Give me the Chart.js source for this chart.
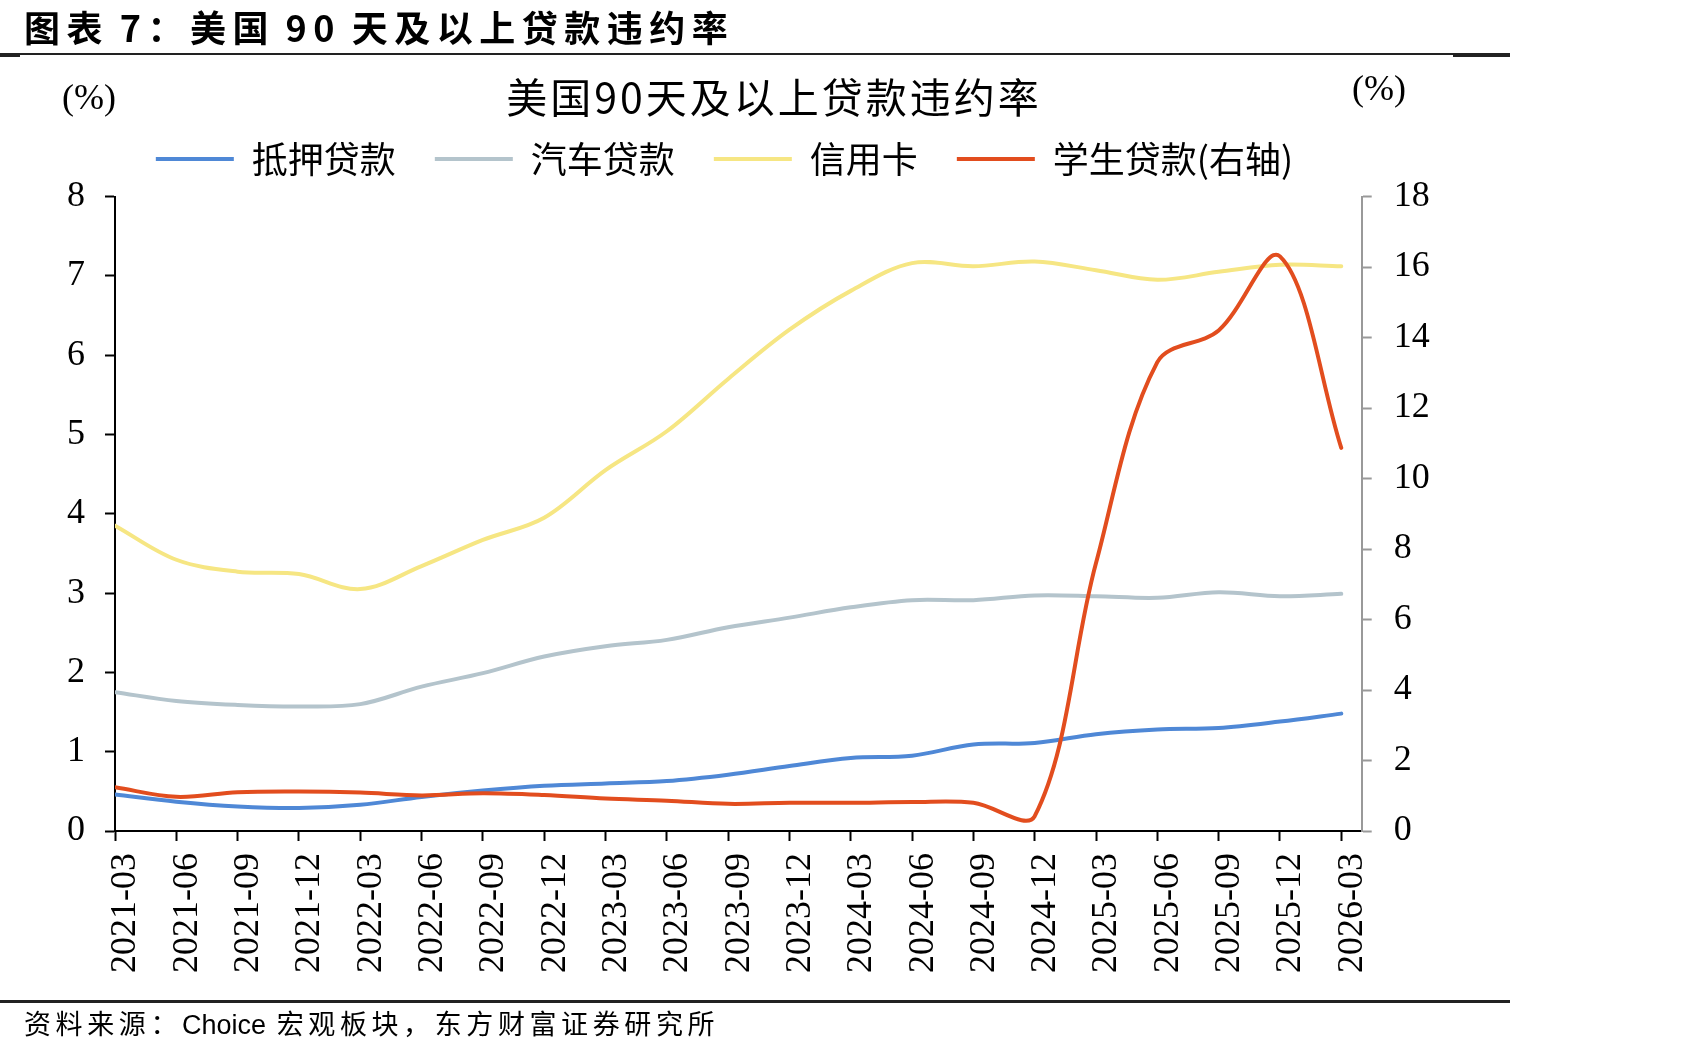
<!DOCTYPE html>
<html>
<head>
<meta charset="utf-8">
<script src="https://cdn.jsdelivr.net/npm/chart.js@4.4.1/dist/chart.umd.min.js"></script>
<style>
html,body{margin:0;padding:0;background:#fff;}
#wrap{position:relative;width:1701px;height:1055px;overflow:hidden;background:#fff;}
#c{position:absolute;left:0;top:0;}
.t{position:absolute;white-space:nowrap;color:#000;}
#hdr{left:24px;top:4px;font-family:"Noto Sans CJK SC";font-weight:bold;font-size:36px;line-height:44px;letter-spacing:6.5px;word-spacing:-4px;}
#ttl{left:774px;top:73px;transform:translateX(-50%);font-family:"Noto Sans CJK SC";font-size:41px;line-height:44px;letter-spacing:3px;}
.pct{font-family:"Liberation Serif";font-size:36px;line-height:40px;}
#pl{left:62px;top:77px;}
#pr{left:1352px;top:68px;}
#src{left:24px;top:1006px;font-family:"Noto Sans CJK SC";font-size:27px;line-height:34px;letter-spacing:4.6px;}
#src span{font-family:"Liberation Sans";letter-spacing:0;}
.ln{position:absolute;background:#222;}
</style>
</head>
<body>
<div id="wrap">
<canvas id="c" width="1701" height="1055"></canvas>
<div class="t" id="hdr">图表 7：美国 90 天及以上贷款违约率</div>
<div class="ln" style="left:0;top:53px;width:1510px;height:2px;"></div>
<div class="ln" style="left:0;top:55px;width:20px;height:2px;"></div>
<div class="ln" style="left:1453px;top:55px;width:57px;height:2px;"></div>
<div class="t" id="ttl">美国90天及以上贷款违约率</div>
<div class="t pct" id="pl">(%)</div>
<div class="t pct" id="pr">(%)</div>
<div class="ln" style="left:0;top:1000px;width:1510px;height:3px;"></div>
<div class="t" id="src">资料来源：<span>Choice</span> 宏观板块，东方财富证券研究所</div>
</div>
<script>
// ---- data ----
const categories = ['2021-03','2021-06','2021-09','2021-12','2022-03','2022-06','2022-09','2022-12',
  '2023-03','2023-06','2023-09','2023-12','2024-03','2024-06','2024-09','2024-12',
  '2025-03','2025-06','2025-09','2025-12','2026-03'];
const seriesNames = ['抵押贷款','汽车贷款','信用卡','学生贷款(右轴)'];
const mortgage   = [0.46,0.37,0.31,0.29,0.33,0.43,0.51,0.57,0.60,0.63,0.71,0.82,0.92,0.95,1.09,1.11,1.22,1.28,1.30,1.38,1.48];
const autoLoan   = [1.75,1.64,1.59,1.57,1.60,1.82,1.99,2.20,2.33,2.41,2.57,2.69,2.82,2.91,2.91,2.97,2.96,2.94,3.01,2.96,2.99];
const creditCard = [3.85,3.42,3.27,3.24,3.05,3.34,3.67,3.95,4.55,5.04,5.70,6.32,6.81,7.16,7.12,7.18,7.07,6.95,7.05,7.14,7.12];
const student    = [1.24,0.97,1.10,1.12,1.09,1.01,1.07,1.02,0.92,0.86,0.77,0.80,0.80,0.82,0.80,0.42,7.60,13.30,14.20,16.30,10.87];
const colors = ['#4f88d6','#b4c4cc','#f6e683','#e24d1e'];

// month index of a category label (axis unit = month)
const xOf = c => { const p = c.split('-').map(Number); return (p[0]-2021)*12 + (p[1]-3); };
const mk = arr => categories.map((c,i) => ({x: xOf(c), y: arr[i]}));

const tickFont = {family: "'Liberation Serif', 'Times New Roman', serif", size: 36};

new Chart(document.getElementById('c'), {
  type: 'line',
  data: {
    datasets: [
      {label: seriesNames[0], data: mk(mortgage),   borderColor: colors[0], backgroundColor: colors[0], yAxisID: 'y',  order: 4},
      {label: seriesNames[1], data: mk(autoLoan),   borderColor: colors[1], backgroundColor: colors[1], yAxisID: 'y',  order: 3},
      {label: seriesNames[2], data: mk(creditCard), borderColor: colors[2], backgroundColor: colors[2], yAxisID: 'y',  order: 2},
      {label: seriesNames[3], data: mk(student),    borderColor: colors[3], backgroundColor: colors[3], yAxisID: 'y1', order: 1}
    ]
  },
  options: {
    responsive: false,
    animation: false,
    devicePixelRatio: 1,
    events: [],
    elements: {
      point: {radius: 0, hitRadius: 0, hoverRadius: 0},
      line: {borderWidth: 4, tension: 0.35, borderCapStyle: 'round', borderJoinStyle: 'round', fill: false}
    },
    layout: {padding: {top: 102, left: 0, right: 252, bottom: 0}},
    plugins: {
      title: {display: false},
      tooltip: {enabled: false},
      legend: {
        display: true, position: 'top', align: 'center',
        labels: {
          boxWidth: 78, boxHeight: 4, padding: 39, color: '#000',
          font: {family: "'Noto Sans CJK SC'", size: 36},
          generateLabels(chart) {
            return chart.data.datasets.map((d, i) => ({
              text: d.label, fillStyle: d.borderColor, strokeStyle: d.borderColor,
              lineWidth: 0, hidden: false, datasetIndex: i, fontColor: '#000'
            }));
          }
        }
      }
    },
    scales: {
      x: {
        type: 'linear', position: 'bottom', min: 0, max: 61,
        afterBuildTicks(s) { s.ticks = categories.map(c => ({value: xOf(c)})); },
        ticks: {
          autoSkip: false, maxRotation: 90, minRotation: 90, padding: 12, labelOffset: 11,
          color: '#000', font: tickFont,
          callback(v) { const i = categories.findIndex(c => xOf(c) === v); return i >= 0 ? categories[i] : ''; }
        },
        grid: {display: true, drawOnChartArea: false, drawTicks: true, tickLength: 10, tickColor: '#000', tickWidth: 2},
        border: {display: true, color: '#000', width: 2},
        afterFit(s) { s.height = 224; }
      },
      xTop: {
        type: 'linear', axis: 'x', position: 'top', display: true,
        grid: {display: false}, border: {display: false}, ticks: {display: false},
        afterFit(s) { s.height = 9.5; }
      },
      y: {
        type: 'linear', position: 'left', min: 0, max: 8,
        ticks: {stepSize: 1, padding: 20, color: '#000', font: tickFont},
        grid: {display: true, drawOnChartArea: false, drawTicks: true, tickLength: 10, tickColor: '#000', tickWidth: 2},
        border: {display: true, color: '#000', width: 2},
        afterFit(s) { s.width = 115; }
      },
      y1: {
        type: 'linear', position: 'right', min: 0, max: 18,
        ticks: {stepSize: 2, padding: 22, color: '#000', font: tickFont},
        grid: {display: true, drawOnChartArea: false, drawTicks: true, tickLength: 10, tickColor: '#999', tickWidth: 2},
        border: {display: true, color: '#999', width: 2},
        afterFit(s) { s.width = 87.3; }
      }
    }
  }
});
</script>
</body>
</html>
